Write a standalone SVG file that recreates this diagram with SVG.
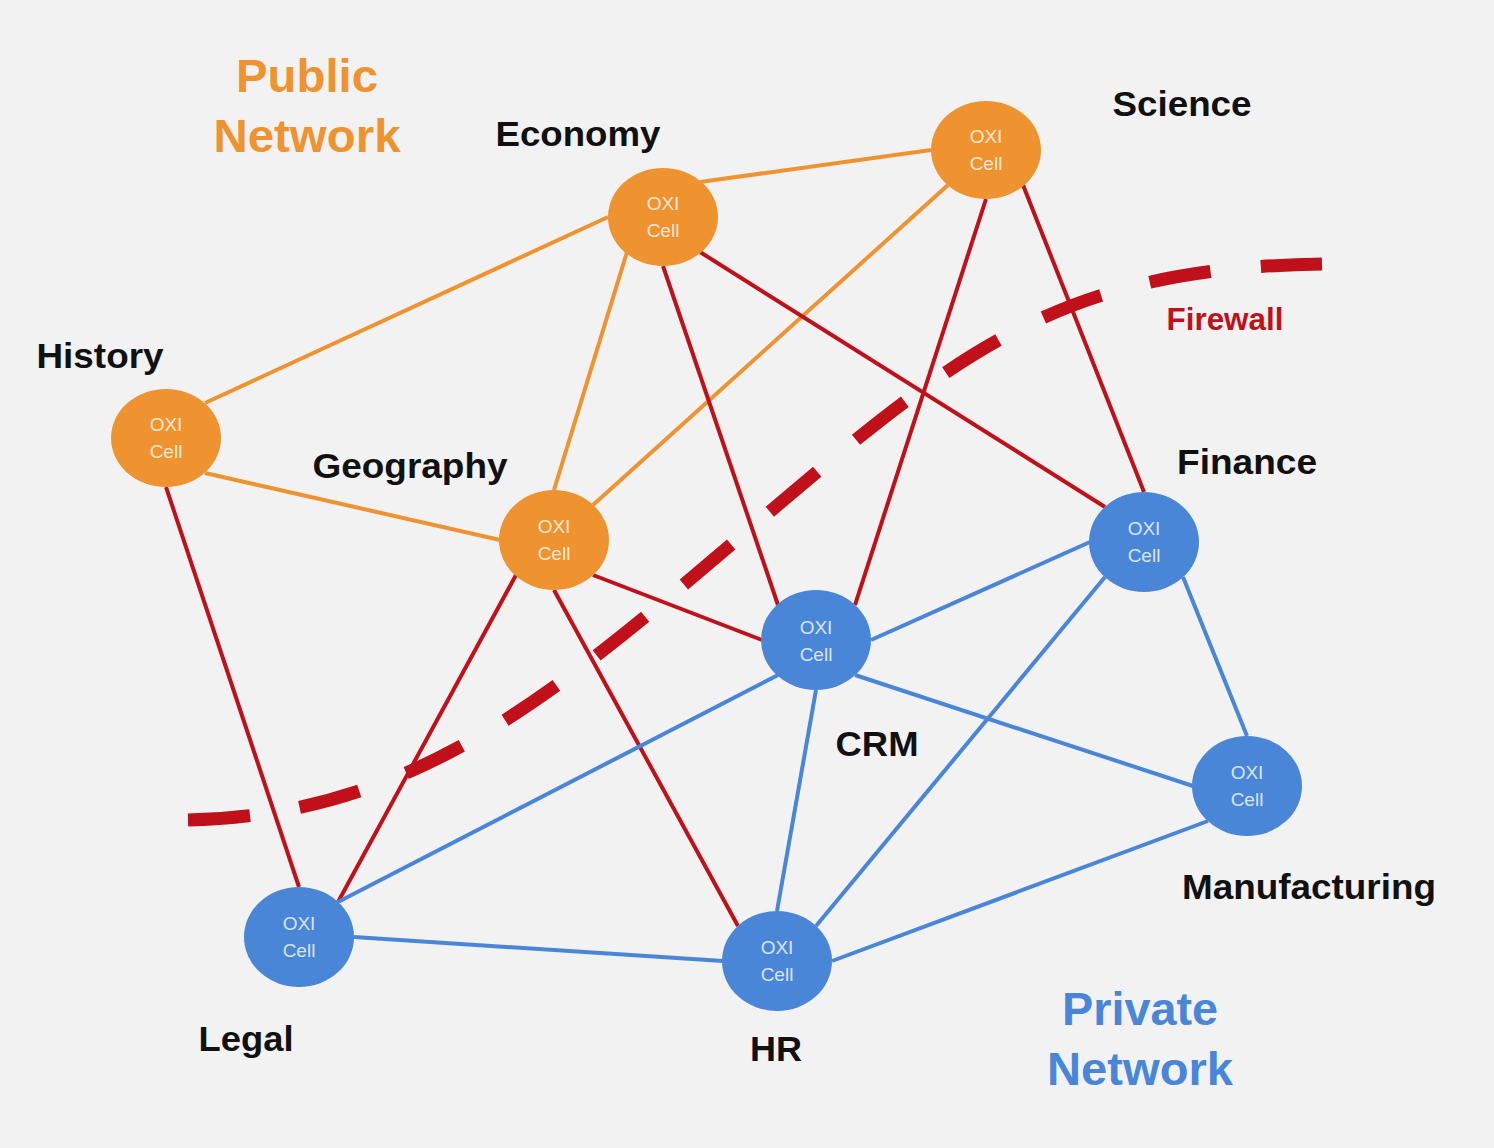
<svg xmlns="http://www.w3.org/2000/svg" width="1494" height="1148" viewBox="0 0 1494 1148">
<style>
.o{stroke:#EF9330;stroke-width:4;fill:none}
.r{stroke:#C0111A;stroke-width:4;fill:none}
.b{stroke:#4A86D8;stroke-width:4;fill:none}
.no{fill:#EF9330}
.nb{fill:#4A86D8}
.ct{font-family:"Liberation Sans",Arial,sans-serif;font-size:19px;fill:#FFFFFF;fill-opacity:0.8;text-anchor:middle}
.lb{font-family:"Liberation Sans",Arial,sans-serif;font-size:35px;font-weight:bold;fill:#111;text-anchor:middle}
.big{font-family:"Liberation Sans",Arial,sans-serif;font-size:46px;font-weight:bold;text-anchor:middle}
</style>
<rect width="1494" height="1148" fill="#F2F2F2"/>
<g id="connectors">
<line class="o" x1="700" y1="182" x2="931" y2="150"/>
<line class="o" x1="608" y1="217" x2="205" y2="403"/>
<line class="o" x1="627" y1="252" x2="554" y2="490"/>
<line class="o" x1="948" y1="185" x2="593" y2="505"/>
<line class="o" x1="205" y1="473" x2="500" y2="540"/>
<line class="r" x1="166" y1="487" x2="299" y2="887"/>
<line class="r" x1="516" y1="575" x2="338" y2="902"/>
<line class="r" x1="554" y1="590" x2="738" y2="926"/>
<line class="r" x1="593" y1="575" x2="762" y2="640"/>
<line class="r" x1="663" y1="266" x2="778" y2="605"/>
<line class="r" x1="700" y1="252" x2="1105" y2="507"/>
<line class="r" x1="986" y1="199" x2="855" y2="605"/>
<line class="r" x1="1023" y1="185" x2="1144" y2="492"/>
<line class="b" x1="871" y1="640" x2="1090" y2="542"/>
<line class="b" x1="778" y1="675" x2="338" y2="902"/>
<line class="b" x1="816" y1="690" x2="777" y2="911"/>
<line class="b" x1="855" y1="675" x2="1193" y2="786"/>
<line class="b" x1="1105" y1="577" x2="816" y2="926"/>
<line class="b" x1="1183" y1="577" x2="1247" y2="736"/>
<line class="b" x1="354" y1="937" x2="723" y2="961"/>
<line class="b" x1="832" y1="961" x2="1208" y2="821"/>
</g>
<g id="firewall">
<path d="M188,820 C420,815 560,690 760,520 S1060,268 1322,264" fill="none" stroke="#C0111A" stroke-width="13" stroke-dasharray="62,50.3"/>
<text x="1225" y="330" font-family="Liberation Sans,Arial,sans-serif" font-size="31" font-weight="bold" fill="#C0111A" text-anchor="middle" textLength="117" lengthAdjust="spacingAndGlyphs">Firewall</text>
</g>
<g id="economy"><ellipse class="no" cx="663" cy="217" rx="55" ry="49"/><text class="ct" x="663" y="210">OXI</text><text class="ct" x="663" y="237">Cell</text><text class="lb" x="578" y="146" textLength="165" lengthAdjust="spacingAndGlyphs">Economy</text></g>
<g id="science"><ellipse class="no" cx="986" cy="150" rx="55" ry="49"/><text class="ct" x="986" y="143">OXI</text><text class="ct" x="986" y="170">Cell</text><text class="lb" x="1182" y="116" textLength="139" lengthAdjust="spacingAndGlyphs">Science</text></g>
<g id="history"><ellipse class="no" cx="166" cy="438" rx="55" ry="49"/><text class="ct" x="166" y="431">OXI</text><text class="ct" x="166" y="458">Cell</text><text class="lb" x="100" y="368" textLength="127" lengthAdjust="spacingAndGlyphs">History</text></g>
<g id="geography"><ellipse class="no" cx="554" cy="540" rx="55" ry="50"/><text class="ct" x="554" y="533">OXI</text><text class="ct" x="554" y="560">Cell</text><text class="lb" x="410" y="478" textLength="195" lengthAdjust="spacingAndGlyphs">Geography</text></g>
<g id="crm"><ellipse class="nb" cx="816" cy="640" rx="55" ry="50"/><text class="ct" x="816" y="634">OXI</text><text class="ct" x="816" y="661">Cell</text><text class="lb" x="877" y="756" textLength="83" lengthAdjust="spacingAndGlyphs">CRM</text></g>
<g id="finance"><ellipse class="nb" cx="1144" cy="542" rx="55" ry="50"/><text class="ct" x="1144" y="535">OXI</text><text class="ct" x="1144" y="562">Cell</text><text class="lb" x="1247" y="474" textLength="140" lengthAdjust="spacingAndGlyphs">Finance</text></g>
<g id="manufacturing"><ellipse class="nb" cx="1247" cy="786" rx="55" ry="50"/><text class="ct" x="1247" y="779">OXI</text><text class="ct" x="1247" y="806">Cell</text><text class="lb" x="1309" y="899" textLength="254" lengthAdjust="spacingAndGlyphs">Manufacturing</text></g>
<g id="legal"><ellipse class="nb" cx="299" cy="937" rx="55" ry="50"/><text class="ct" x="299" y="930">OXI</text><text class="ct" x="299" y="957">Cell</text><text class="lb" x="246" y="1051" textLength="95" lengthAdjust="spacingAndGlyphs">Legal</text></g>
<g id="hr"><ellipse class="nb" cx="777" cy="961" rx="55" ry="50"/><text class="ct" x="777" y="954">OXI</text><text class="ct" x="777" y="981">Cell</text><text class="lb" x="776" y="1061" textLength="52" lengthAdjust="spacingAndGlyphs">HR</text></g>
<g id="public-network"><text class="big" x="307" y="92" fill="#EF9330" textLength="142" lengthAdjust="spacingAndGlyphs">Public</text><text class="big" x="307" y="152" fill="#EF9330" textLength="187" lengthAdjust="spacingAndGlyphs">Network</text></g>
<g id="private-network"><text class="big" x="1140" y="1025" fill="#4A86D8" textLength="156" lengthAdjust="spacingAndGlyphs">Private</text><text class="big" x="1140" y="1085" fill="#4A86D8" textLength="186" lengthAdjust="spacingAndGlyphs">Network</text></g>
</svg>
